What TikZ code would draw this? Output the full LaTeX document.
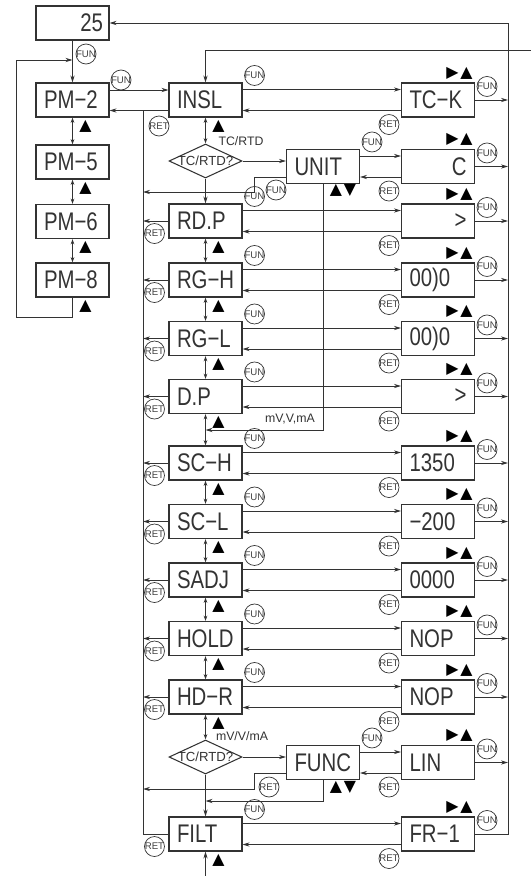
\documentclass[tikz,border=0pt]{standalone}
\usepackage{fontspec}
\setmainfont{Liberation Sans}
\newfontfamily\boxfont[FakeStretch=0.8]{Liberation Sans}
\newfontfamily\symfont{DejaVu Sans}
\usetikzlibrary{shapes.geometric,arrows.meta,positioning}

\begin{document}
\begin{tikzpicture}[x=0.02cm, y=-0.02cm,
  box/.style={draw=black!80, line width=0.6pt, minimum width=1.46cm,
              minimum height=0.68cm, inner xsep=0.16cm, inner ysep=0pt,
              text width=1.14cm, align=left,
              font=\boxfont\fontsize{14.5}{15}\selectfont, text=black!80},
  dec/.style={draw=black!80, line width=0.6pt, diamond, aspect=2.15,
              minimum width=1.46cm, minimum height=0.68cm, inner sep=0pt,
              font=\fontsize{7.5}{8}\selectfont, text=black!80},
  btn/.style={draw=black!80, circle, minimum size=0.4cm, inner sep=0pt,
              font=\fontsize{5.5}{6}\selectfont, text=black!75},
  tri/.style={inner sep=0pt, font=\symfont\fontsize{9}{9}\selectfont},
  note/.style={font=\fontsize{7}{8}\selectfont, text=black!80},
  arr/.style={-{Stealth[length=4pt,width=2.4pt]}, line width=0.5pt, draw=black!80},
  darr/.style={{Stealth[length=3pt,width=2pt]}-{Stealth[length=3pt,width=2pt]},
               line width=0.5pt, draw=black!80},
  wire/.style={line width=0.5pt, draw=black!80}
]
  \useasboundingbox (0,0) rectangle (531,876);

  % parameter group
  \node[box, align=right, inner xsep=0.12cm, text width=1.22cm] (v25) at (72.5,23) {25};
  \node[box] (pm2) at (72.5,100) {PM−2};
  \node[box] (pm5) at (72.5,162) {PM−5};
  \node[box] (pm6) at (72.5,221.5) {PM−6};
  \node[box] (pm8) at (72.5,280) {PM−8};

  % input group
  \node[box] (insl) at (205.5,100)   {INSL};
  \node[dec] (dia1) at (205.5,161)   {\makebox[0pt]{TC/RTD?}};
  \node[box] (rdp)  at (205.5,221)   {RD.P};
  \node[box] (rgh)  at (205.5,280)   {RG−H};
  \node[box] (rgl)  at (205.5,338.5) {RG−L};
  \node[box] (dp)   at (205.5,396.5) {D.P};
  \node[box] (sch)  at (205.5,463)   {SC−H};
  \node[box] (scl)  at (205.5,521.5) {SC−L};
  \node[box] (sadj) at (205.5,580)   {SADJ};
  \node[box] (hold) at (205.5,638.5) {HOLD};
  \node[box] (hdr)  at (205.5,697)   {HD−R};
  \node[dec] (dia2) at (205.5,757)   {\makebox[0pt]{TC/RTD?}};
  \node[box] (filt) at (205.5,834)   {FILT};
  \node[box] (unit) at (323,166.5)   {UNIT};
  \node[box] (func) at (323,762.5)   {FUNC};

  % values
  \node[box] (tck)  at (438,100)   {TC−K};
  \node[box, align=right] (cval) at (438,166.5) {C};
  \node[box, align=right] (rdpv) at (438,221) {>};
  \node[box] (rghv) at (438,280)   {00)0};
  \node[box] (rglv) at (438,338.5) {00)0};
  \node[box, align=right] (dpv) at (438,396.5) {>};
  \node[box] (schv) at (438,463)   {1350};
  \node[box] (sclv) at (438,521.5) {−200};
  \node[box] (sadjv) at (438,580)  {0000};
  \node[box] (holdv) at (438,638.5) {NOP};
  \node[box] (hdrv) at (438,697)   {NOP};
  \node[box] (lin)  at (438,762.5) {LIN};
  \node[box] (fr1)  at (438,834)   {FR−1};

  \coordinate (rtop)   at (508,23);
  \coordinate (rbot)   at (508,834);
  \coordinate (ext)    at (531,50);
  \coordinate (bustop) at (143,110.5);
  \coordinate (busbot) at (143,834);
  \coordinate (lpa)    at (16,317);
  \coordinate (lpb)    at (16,60);
  \coordinate (lpin)   at (72.5,60);
  \coordinate (ua)     at (254,192);
  \coordinate (ub)     at (323,430);
  \coordinate (fa)     at (254,789);
  \coordinate (fb)     at (323,801);
  \coordinate (fin)    at (205.5,876);

  % parameter loop
  \draw[arr] (v25) -- (pm2);
  \node[btn] (f0) at (86,54) {\makebox[0pt]{FUN}};
  \draw[arr] (pm8.south) -- (pm8.south |- lpa) -- (lpa) -- (lpb) -- (lpin);
  \draw[arr] ([yshift=0.2cm]pm2.east) -- ([yshift=0.2cm]insl.west);
  \draw[arr] ([yshift=-0.21cm]insl.west) -- ([yshift=-0.21cm]pm2.east);
  \node[btn] (fp) at (121,80) {\makebox[0pt]{FUN}};
  \node[btn] (rp) at (159,126) {\makebox[0pt]{RET}};

  % up key steps
  \foreach \m/\n in {pm2/pm5,pm5/pm6,pm6/pm8,insl/dia1,rdp/rgh,rgh/rgl,rgl/dp,
                     dp/sch,sch/scl,scl/sadj,sadj/hold,hold/hdr,hdr/dia2}
    \draw[darr] (\m) -- (\n);
  \draw[arr] (dia1) -- (rdp);
  \draw[arr] (dia2) -- (filt);
  \draw[arr] (fin) -- (filt.south);
  \foreach \m in {pm2,pm5,pm6,pm8,insl,rdp,rgh,rgl,dp,sch,scl,sadj,hold,hdr,filt}
    \node[tri] (up-\m) at ([xshift=0.26cm,yshift=-0.17cm]\m.south) {▲};

  % set / return
  \foreach \m/\n in {insl/tck,unit/cval,rdp/rdpv,rgh/rghv,rgl/rglv,dp/dpv,sch/schv,
                     scl/sclv,sadj/sadjv,hold/holdv,hdr/hdrv,func/lin,filt/fr1}{
    \draw[arr] ([yshift=0.21cm]\m.east) -- ([yshift=0.21cm]\n.west);
    \draw[arr] ([yshift=-0.21cm]\n.west) -- ([yshift=-0.21cm]\m.east);
    \node[btn] (fl-\m) at ([xshift=0.24cm,yshift=0.14cm]\m.north east) {\makebox[0pt]{FUN}};
    \node[btn] (rr-\n) at ([xshift=-0.24cm,yshift=-0.14cm]\n.south west) {\makebox[0pt]{RET}};
    \node[btn] (fr-\n) at ([xshift=0.24cm,yshift=-0.08cm]\n.north east) {\makebox[0pt]{FUN}};
    \node[tri] (ra-\n) at ([xshift=-0.31cm,yshift=0.19cm]\n.north east) {▶\hspace{1pt}▲};
  }
  \foreach \n in {tck,cval,rdpv,rghv,rglv,dpv,schv,sclv,sadjv,holdv,hdrv,lin}
    \draw[arr] (\n.east) -- (\n.east -| rtop);
  \foreach \m in {rdp,rgh,rgl,dp,sch,scl,sadj,hold,hdr}{
    \draw[arr] (\m.west) -- (\m.west -| bustop);
    \node[btn] (rl-\m) at ([xshift=-0.28cm,yshift=0.1cm]\m.south west) {\makebox[0pt]{RET}};
  }
  \node[btn] (rl-filt) at ([xshift=-0.28cm,yshift=0.1cm]filt.south west) {\makebox[0pt]{RET}};

  % busses
  \draw[wire] (bustop) -- (busbot) -- (filt.west);
  \draw[arr] (fr1.east) -- (rbot) -- (rtop) -- (v25.east);
  \draw[arr] (ext) -| (insl.north);

  % TC/RTD branch
  \draw[arr] (dia1.east) -- (dia1.east -| unit.west);
  \node[note] (lbl-tc) at (241,141) {TC/RTD};
  \draw[arr] ([yshift=-0.21cm]unit.west) -| (ua) -- (ua -| bustop);
  \node[btn] (fu) at (276,190) {\makebox[0pt]{FUN}};
  \draw[arr] (unit.south) -- (ub) -- (ub -| insl.south);
  \node[tri] (ud-unit) at (343,190) {▲\hspace{1pt}▼};
  \node[note] (lbl-mv) at (290,419) {mV,V,mA};

  % mV/V/mA branch
  \draw[arr] (dia2.east) -- (dia2.east -| func.west);
  \node[note] (lbl-mv2) at (242,736) {mV/V/mA};
  \draw[arr] ([yshift=-0.21cm]func.west) -| (fa) -- (fa -| bustop);
  \node[btn] (rf) at (269,787) {\makebox[0pt]{RET}};
  \draw[arr] (func.south) -- (fb) -- (fb -| filt.north);
  \node[tri] (ud-func) at (343,787) {▲\hspace{1pt}▼};
\end{tikzpicture}
\end{document}
